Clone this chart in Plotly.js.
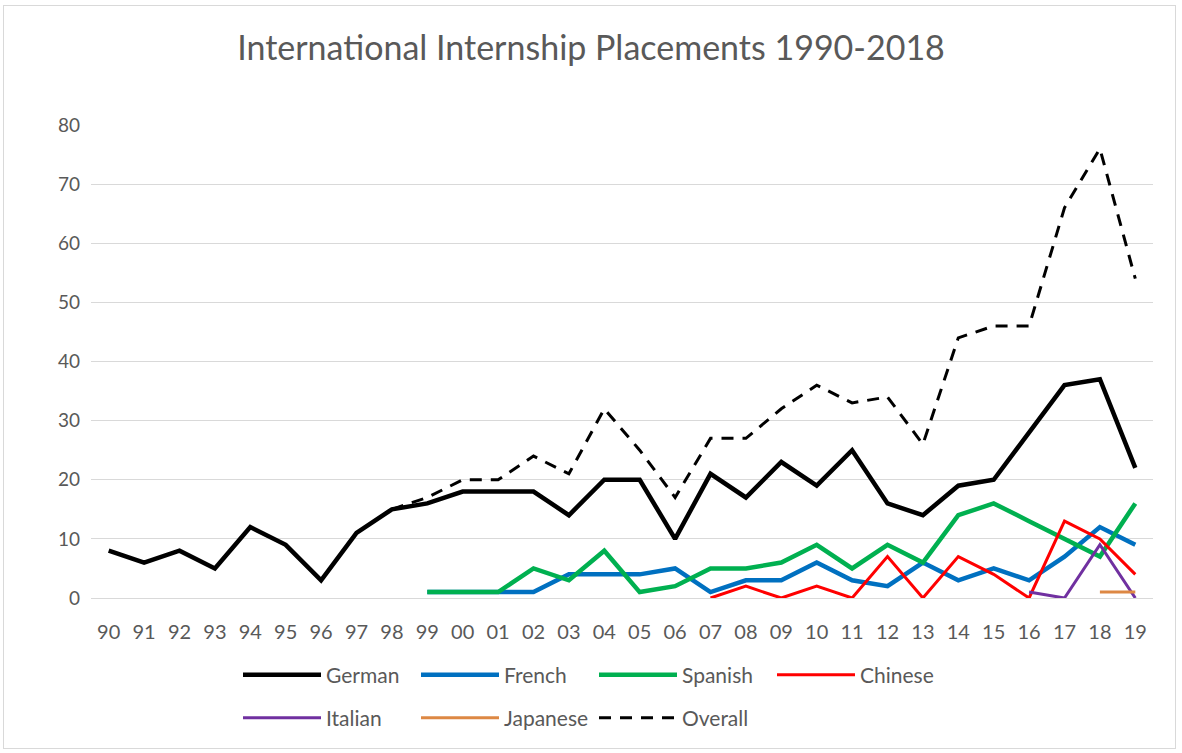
<!DOCTYPE html>
<html>
<head>
<meta charset="utf-8">
<script src="https://cdn.plot.ly/plotly-3.0.1.min.js"></script>
<style>
html,body{margin:0;padding:0;background:#fff;}
#wrap{position:relative;width:1182px;height:753px;}
#chart{position:absolute;left:0;top:0;width:1182px;height:753px;}
#frame{position:absolute;left:3px;top:5px;width:1171px;height:742px;border:1px solid #d9d9d9;pointer-events:none;}
</style>
</head>
<body>
<div id="wrap"><div id="chart"></div><div id="frame"></div></div>
<script>
const years = ["90","91","92","93","94","95","96","97","98","99","00","01","02","03","04","05","06","07","08","09","10","11","12","13","14","15","16","17","18","19"];
const german   = [8,6,8,5,12,9,3,11,15,16,18,18,18,14,20,20,10,21,17,23,19,25,16,14,19,20,28,36,37,22];
const french   = [null,null,null,null,null,null,null,null,null,1,1,1,1,4,4,4,5,1,3,3,6,3,2,6,3,5,3,7,12,9];
const spanish  = [null,null,null,null,null,null,null,null,null,1,1,1,5,3,8,1,2,5,5,6,9,5,9,6,14,16,13,10,7,16];
const chinese  = [null,null,null,null,null,null,null,null,null,null,null,null,null,null,null,null,null,0,2,0,2,0,7,0,7,4,0,13,10,4];
const italian  = [null,null,null,null,null,null,null,null,null,null,null,null,null,null,null,null,null,null,null,null,null,null,null,null,null,null,1,0,9,0];
const japanese = [null,null,null,null,null,null,null,null,null,null,null,null,null,null,null,null,null,null,null,null,null,null,null,null,null,null,null,null,1,1];
const overall  = [null,null,null,null,null,null,null,null,15,17,20,20,24,21,32,25,17,27,27,32,36,33,34,26,44,46,46,66,76,54];

const FONT = 'Lato, "Open Sans", sans-serif';
const GREY = '#595959';

function tr(name, y, color, width, dash, legend) {
  return {x: years, y: y, name: name, type: 'scatter', mode: 'lines',
    line: {color: color, width: width, dash: dash || 'solid'},
    connectgaps: false, legend: legend, hoverinfo: 'x+y+name'};
}

const data = [
  tr('German', german, '#000000', 4.5, 'solid', 'legend'),
  tr('French', french, '#0070C0', 4.5, 'solid', 'legend'),
  tr('Spanish', spanish, '#00B050', 4.5, 'solid', 'legend'),
  tr('Chinese', chinese, '#FF0000', 3, 'solid', 'legend'),
  tr('Italian', italian, '#7030A0', 3, 'solid', 'legend2'),
  tr('Japanese', japanese, '#DD8844', 3, 'solid', 'legend2'),
  tr('Overall', overall, '#000000', 3, '12px,9px', 'legend2')
];

const legendBase = {
  orientation: 'h', xanchor: 'left', yanchor: 'middle',
  xref: 'container', yref: 'container',
  entrywidth: 85, entrywidthmode: 'pixels', itemwidth: 78,
  font: {family: FONT, size: 21, color: GREY},
  bgcolor: 'rgba(0,0,0,0)', traceorder: 'normal', tracegroupgap: 0
};

const layout = {
  width: 1182, height: 753,
  margin: {l: 91, r: 29, t: 125, b: 155, autoexpand: false},
  paper_bgcolor: '#ffffff', plot_bgcolor: '#ffffff',
  font: {family: FONT, color: GREY},
  title: {text: 'International Internship Placements 1990-2018',
    font: {family: FONT, size: 34, color: GREY},
    x: 0.5, xanchor: 'center', y: 0.936, yanchor: 'middle'},
  xaxis: {type: 'category', range: [-0.5, 29.5], showgrid: false, zeroline: false, automargin: false,
    showline: false, ticks: '', ticklabelstandoff: 20,
    tickfont: {family: FONT, size: 20, color: GREY}, fixedrange: true},
  yaxis: {range: [0, 80], dtick: 10, tick0: 0, showgrid: true, gridcolor: '#d9d9d9', gridwidth: 1.3,
    zeroline: true, zerolinecolor: '#d9d9d9', zerolinewidth: 1.3, showline: false, ticks: '',
    ticklabelstandoff: 10, automargin: false,
    tickfont: {family: FONT, size: 19, color: GREY}, fixedrange: true},
  showlegend: true,
  legend: Object.assign({}, legendBase, {x: 238 / 1182, y: 1 - 675 / 753}),
  legend2: Object.assign({}, legendBase, {x: 238 / 1182, y: 1 - 718 / 753})
};

Plotly.newPlot('chart', data, layout, {displayModeBar: false});
</script>
</body>
</html>
